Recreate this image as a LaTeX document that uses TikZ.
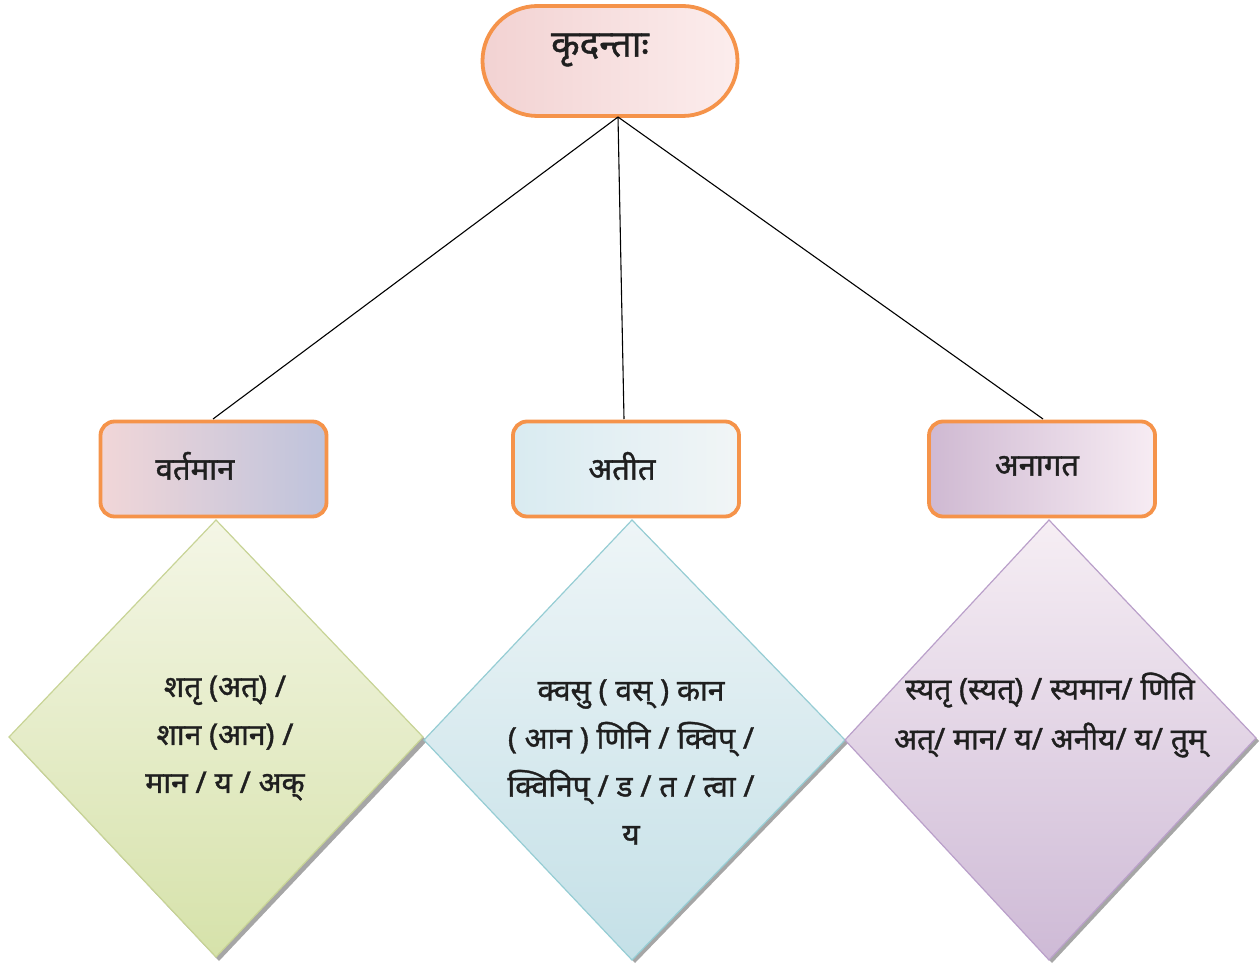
\documentclass[tikz,border=0pt]{standalone}
\usepackage{fontspec}
\newfontfamily\deva[Script=Devanagari, FakeBold=1.2]{Noto Sans}
\definecolor{orng}{HTML}{F5934A}
\tikzset{
  x=1pt,y=-1pt,
  lbl/.style={font=\deva\fontsize{31}{34}\selectfont, text=black!88},
  dtext/.style={font=\deva\fontsize{30}{48}\selectfont, text=black!88, align=center},
  catbox/.style={draw=orng, line width=3.8pt, rounded corners=14pt, minimum width=226pt, minimum height=95pt},
  link/.style={draw=black, line width=1.1pt},
  shadow/.style={fill=black!35},
}
\begin{document}
\begin{tikzpicture}
\useasboundingbox (0,0) rectangle (1260,965);
% title
\node[draw=orng, line width=3.8pt, rounded corners=55pt, minimum width=255pt, minimum height=110pt,
      left color={rgb,255:red,242;green,210;blue,210}, right color={rgb,255:red,252;green,237;blue,237}]
      (root) at (610,61) {};
\node[lbl, font=\deva\fontsize{37}{40}\selectfont] (roottxt) at (600,50) {कृदन्ताः};
\coordinate (rb) at (618,117);
% diamonds (shadows first)
\fill[shadow] (219,523) -- (427,741) -- (219,961) -- (12,741) -- cycle;
\fill[shadow] (635,523) -- (848,743) -- (635,963) -- (427,743) -- cycle;
\fill[shadow] (1052,523) -- (1259,741) -- (1052,963) -- (848,743) -- cycle;
\path[draw={rgb,255:red,200;green,212;blue,150}, line width=1.2pt,
      top color={rgb,255:red,244;green,246;blue,230}, bottom color={rgb,255:red,214;green,226;blue,170}]
  (216,520) -- (423,737) -- (216,957) -- (9,737) -- cycle;
\path[draw={rgb,255:red,150;green,205;blue,212}, line width=1.2pt,
      top color={rgb,255:red,238;green,245;blue,247}, bottom color={rgb,255:red,196;green,224;blue,231}]
  (632,520) -- (845,740) -- (632,960) -- (424,740) -- cycle;
\path[draw={rgb,255:red,186;green,160;blue,202}, line width=1.2pt,
      top color={rgb,255:red,246;green,238;blue,244}, bottom color={rgb,255:red,206;green,186;blue,214}]
  (1049,520) -- (1256,738) -- (1049,960) -- (845,740) -- cycle;
% category boxes
\node[catbox, left color={rgb,255:red,241;green,214;blue,216}, right color={rgb,255:red,190;green,195;blue,220}]
  (b1) at (213.5,469) {};
\node[catbox, left color={rgb,255:red,217;green,235;blue,241}, right color={rgb,255:red,241;green,245;blue,246}]
  (b2) at (626,469) {};
\node[catbox, left color={rgb,255:red,207;green,185;blue,210}, right color={rgb,255:red,247;green,236;blue,243}]
  (b3) at (1042,469) {};
\node[lbl] (t1) at (195,466) {वर्तमान};
\node[lbl] (t2) at (622,466) {अतीत};
\node[lbl] (t3) at (1037,466) {अनागत};
% connectors
\coordinate (e1) at (213,419);
\coordinate (e2) at (624,419);
\coordinate (e3) at (1043,419);
\draw[link] (rb) -- (e1);
\draw[link] (rb) -- (e2);
\draw[link] (rb) -- (e3);
% diamond texts
\node[dtext] (d1) at (225,738) {शतृ (अत्) /\\ शान (आन) /\\ मान / य / अक्};
\node[dtext] (d2) at (631,762) {क्वसु ( वस् ) कान\\ ( आन ) णिनि / क्विप् /\\ क्विनिप् / ड / त / त्वा /\\ य};
\node[dtext, font=\deva\fontsize{30}{50}\selectfont] (d3) at (1050,715) {स्यतृ (स्यत्) / स्यमान/ णिति\\ अत्/ मान/ य/ अनीय/ य/ तुम्};
\end{tikzpicture}
\end{document}
